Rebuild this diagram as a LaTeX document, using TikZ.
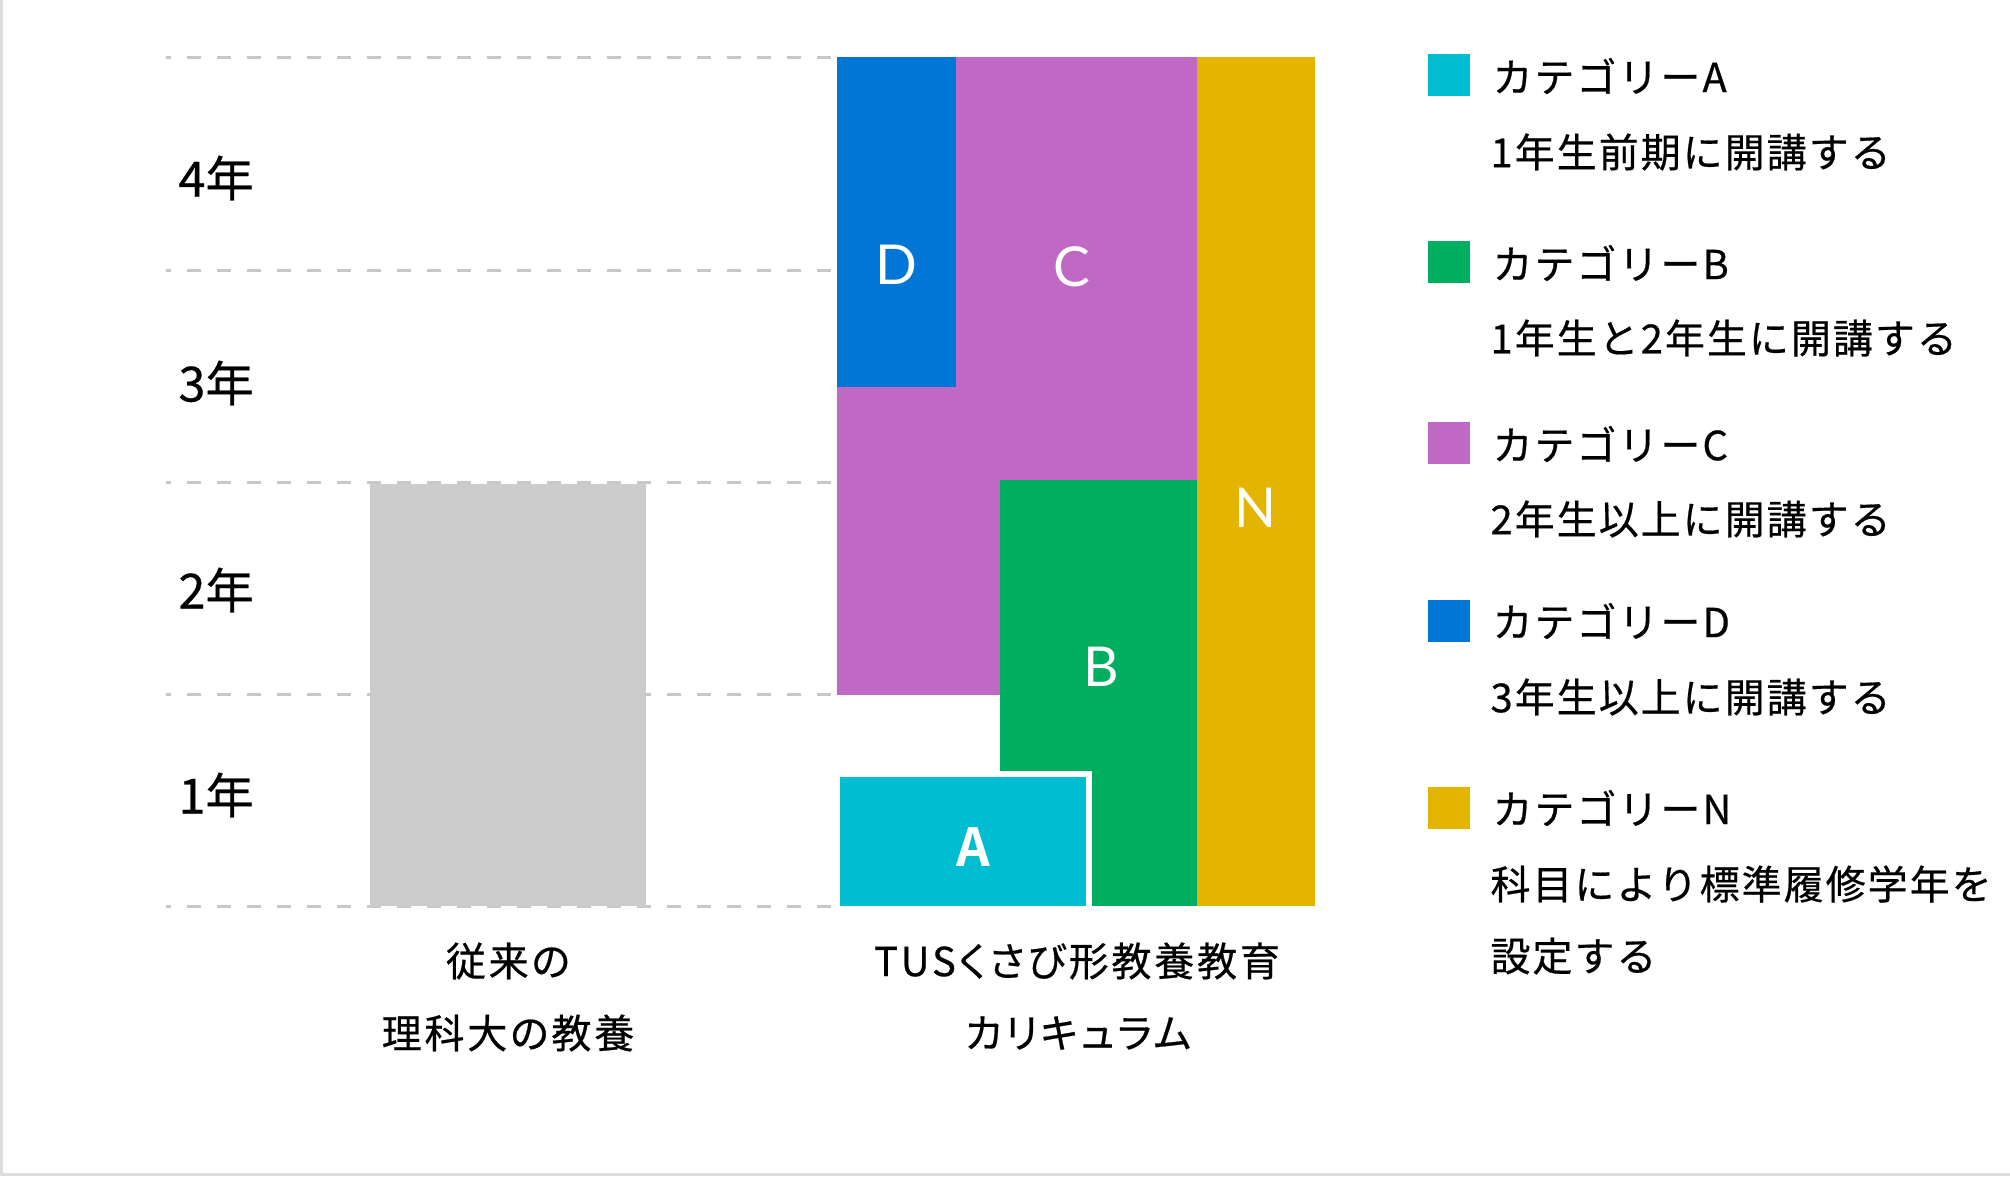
\documentclass[tikz,border=0pt]{standalone}
\usepackage{fontspec}
\setmainfont{Noto Sans CJK JP}
\newfontfamily\jpfont[LetterSpace=5,FakeBold=0.5]{Noto Sans CJK JP}
\newfontfamily\axfont[LetterSpace=7,FakeBold=0.5,RawFeature=+palt]{Noto Sans CJK JP}
\newfontfamily\yrfont[FakeBold=0.5]{Noto Sans CJK JP}
\newfontfamily\latfont{Lato}
\newfontfamily\boldlat{Noto Sans CJK JP Bold}
\definecolor{catA}{HTML}{00BDD2}
\definecolor{catB}{HTML}{00AE5F}
\definecolor{catC}{HTML}{C069C4}
\definecolor{catD}{HTML}{0077D7}
\definecolor{catN}{HTML}{E3B400}
\definecolor{bargray}{HTML}{CCCCCC}
\definecolor{dashgray}{HTML}{C8C8C8}
\definecolor{framegray}{HTML}{DDDDDD}
\tikzset{
  gridline/.style={draw=dashgray, line width=1.2pt, dash pattern=on 5.6pt off 6.4pt, dash phase=3.6pt},
  yearlbl/.style={inner sep=0pt, anchor=west, font=\yrfont\fontsize{19.4pt}{22pt}\selectfont},
  blocklbl/.style={inner sep=0pt, text=white, font=\latfont\fontsize{22pt}{26pt}\selectfont},
  axislbl/.style={inner sep=0pt, font=\axfont\fontsize{16pt}{19pt}\selectfont},
  legtext/.style={inner sep=0pt, anchor=west, font=\jpfont\fontsize{16pt}{19pt}\selectfont},
  legsq/.style={inner sep=0pt, minimum size=16.8pt, draw=none}
}
\begin{document}
\begin{tikzpicture}[x=0.4pt,y=-0.4pt]
\useasboundingbox (0,0) rectangle (2010,1176);
\fill[white] (0,0) rectangle (2010,1176);
% frame
\fill[framegray] (0,0) rectangle (3,1176);
\fill[framegray] (0,1173) rectangle (2010,1176);
% grid lines
\foreach \yy in {57,270,482,694,906} {
  \draw[gridline] (166,\yy) -- (837,\yy);
}
% year labels
\node[yearlbl] (y4) at (178,178) {4年};
\node[yearlbl] (y3) at (178,383) {3年};
\node[yearlbl] (y2) at (178,590) {2年};
\node[yearlbl] (y1) at (178,795) {1年};
% conventional bar
\fill[bargray] (370,484) rectangle (646,906);
% TUS blocks
\fill[catC] (837,57) rectangle (1197,695);
\fill[catD] (837,57) rectangle (956,387);
\fill[catB] (1000,480) rectangle (1197,906);
\fill[catN] (1197,57) rectangle (1315,906);
\fill[white] (834,771) rectangle (1092,906);
\fill[catA] (840,777) rectangle (1086,906);
% block labels
\node[blocklbl] (lD) at (896,265) {D};
\node[blocklbl] (lC) at (1072,267) {C};
\node[blocklbl] (lN) at (1255,508) {N};
\node[blocklbl] (lB) at (1101,667) {B};
\node[blocklbl, font=\boldlat\fontsize{21pt}{26pt}\selectfont] (lA) at (973,847) {A};
% axis labels
\node[axislbl] (c1) at (508,961) {従来の};
\node[axislbl] (c2) at (508,1033) {理科大の教養};
\node[axislbl] (t1) at (1077,961) {TUSくさび形教養教育};
\node[axislbl] (t2) at (1078,1033) {カリキュラム};
% legend
\node[legsq, fill=catA] (sqA) at (1449,75) {};
\node[legtext] (tA) at (1492,76) {カテゴリーA};
\node[legtext] (dA) at (1490,152) {1年生前期に開講する};
\node[legsq, fill=catB] (sqB) at (1449,262) {};
\node[legtext] (tB) at (1492,263) {カテゴリーB};
\node[legtext] (dB) at (1490,338) {1年生と2年生に開講する};
\node[legsq, fill=catC] (sqC) at (1449,443) {};
\node[legtext] (tC) at (1492,444) {カテゴリーC};
\node[legtext] (dC) at (1490,519) {2年生以上に開講する};
\node[legsq, fill=catD] (sqD) at (1449,621) {};
\node[legtext] (tD) at (1492,621) {カテゴリーD};
\node[legtext] (dD) at (1490,697) {3年生以上に開講する};
\node[legsq, fill=catN] (sqN) at (1449,808) {};
\node[legtext] (tN) at (1492,808) {カテゴリーN};
\node[legtext] (dN1) at (1490,884) {科目により標準履修学年を};
\node[legtext] (dN2) at (1490,956) {設定する};
\end{tikzpicture}
\end{document}
